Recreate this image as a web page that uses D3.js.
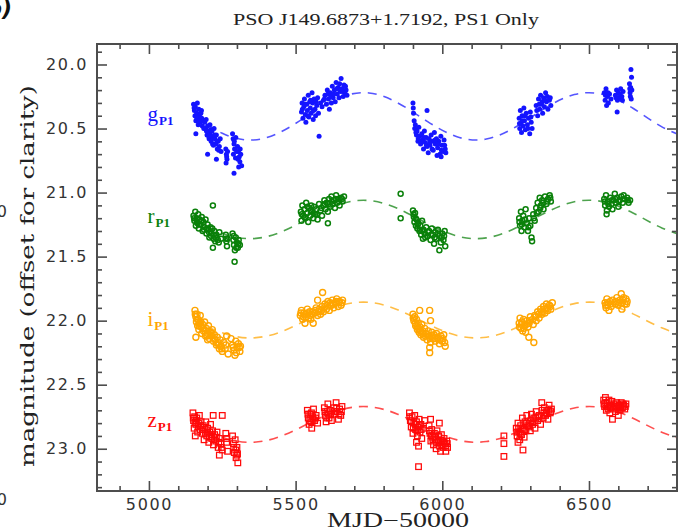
<!DOCTYPE html>
<html>
<head>
<meta charset="utf-8">
<script src="https://cdn.jsdelivr.net/npm/d3@7"></script>
<style>
  body { margin: 0; background: #fff; }
  svg { display: block; }
</style>
</head>
<body>
<svg id="chart" width="681" height="531"></svg>
<script>
// ---- PS1 light curve of PSO J149.6873+1.7192: [MJD-50000, magnitude] ----
const gObs = [
  [5152,20.31],[5155,20.36],[5157,20.40],[5158,20.33],[5160,20.44],[5163,20.38],[5165,20.30],[5166,20.42],
  [5168,20.47],[5170,20.35],[5172,20.40],[5175,20.45],[5177,20.38],[5180,20.42],[5182,20.48],[5185,20.44],
  [5160,20.54],[5190,20.45],[5193,20.50],[5195,20.43],[5198,20.55],[5200,20.48],[5203,20.52],[5205,20.58],
  [5208,20.47],[5210,20.55],[5212,20.60],[5215,20.52],[5218,20.57],[5220,20.63],[5222,20.50],[5225,20.58],
  [5228,20.62],[5230,20.55],[5233,20.66],[5236,20.60],[5240,20.64],[5243,20.58],[5246,20.68],[5200,20.70],
  [5230,20.74],[5262,20.66],[5264,20.70],[5266,20.74],[5263,20.77],[5268,20.68],[5285,20.54],[5287,20.58],
  [5290,20.62],[5292,20.66],[5288,20.70],[5295,20.73],[5290,20.85],[5296,20.57],[5302,20.64],[5305,20.68],
  [5308,20.72],[5310,20.76],[5313,20.70],[5316,20.79],[5306,20.80],
  [5154,20.34],[5162,20.41],[5171,20.44],[5179,20.36],[5187,20.50],[5196,20.52],[5204,20.56],[5211,20.51],
  [5217,20.62],[5224,20.55],[5232,20.60],[5238,20.67],[5265,20.72],[5291,20.60],[5299,20.68],[5304,20.74],
  [5311,20.66],
  [5520,20.37],[5522,20.30],[5525,20.42],[5528,20.33],[5530,20.27],[5533,20.39],[5535,20.45],[5538,20.31],
  [5540,20.36],[5543,20.24],[5545,20.41],[5548,20.29],[5550,20.34],[5553,20.38],[5556,20.22],[5558,20.30],
  [5560,20.43],[5563,20.27],[5566,20.35],[5568,20.40],[5572,20.32],[5575,20.26],[5578,20.38],[5580,20.56],
  [5590,20.33],[5595,20.28],[5600,20.24],[5605,20.31],[5608,20.20],[5612,20.27],[5615,20.35],[5618,20.22],
  [5622,20.30],[5625,20.17],[5628,20.26],[5632,20.20],[5635,20.29],[5638,20.14],[5642,20.23],[5645,20.18],
  [5648,20.26],[5652,20.21],[5655,20.11],[5658,20.19],[5662,20.25],[5665,20.16],[5668,20.22],[5672,20.20],
  [5523,20.35],[5532,20.31],[5541,20.40],[5551,20.28],[5561,20.36],[5570,20.29],[5585,20.30],[5598,20.27],
  [5610,20.23],[5620,20.25],[5630,20.23],[5640,20.19],[5650,20.15],[5660,20.21],[5670,20.17],[5675,20.24],
  [5900,20.30],[5902,20.38],[5904,20.44],[5906,20.50],[5908,20.47],[5912,20.55],[5914,20.52],[5917,20.60],
  [5920,20.49],[5923,20.56],[5926,20.62],[5930,20.54],[5933,20.59],[5936,20.66],[5939,20.52],[5942,20.61],
  [5945,20.57],[5948,20.64],[5952,20.69],[5948,20.36],[5955,20.58],[5958,20.63],[5962,20.55],[5966,20.60],
  [5969,20.67],[5973,20.53],[5976,20.62],[5980,20.58],[5984,20.65],[5988,20.60],[5992,20.70],[5995,20.56],
  [5999,20.63],[6003,20.68],[6006,20.59],[6010,20.66],[5996,20.72],[5982,20.71],
  [5901,20.34],[5910,20.53],[5918,20.58],[5928,20.60],[5938,20.57],[5946,20.63],[5957,20.61],[5965,20.66],
  [5975,20.59],[5986,20.62],[5997,20.67],[6008,20.63],[6012,20.69],
  [6262,20.42],[6264,20.50],[6266,20.36],[6268,20.46],[6270,20.53],[6272,20.40],[6275,20.48],[6278,20.34],
  [6280,20.44],[6283,20.51],[6286,20.38],[6290,20.47],[6294,20.42],[6298,20.54],[6300,20.37],[6303,20.45],
  [6306,20.50],[6320,20.32],[6325,20.40],[6328,20.27],[6332,20.35],[6335,20.24],[6338,20.31],[6342,20.38],
  [6345,20.26],[6348,20.33],[6352,20.22],[6355,20.29],[6360,20.35],[6365,20.28],[6370,20.32],
  [6263,20.46],[6273,20.44],[6282,20.40],[6292,20.50],[6302,20.41],[6322,20.36],[6330,20.31],[6340,20.29],
  [6350,20.28],[6358,20.25],[6368,20.26],
  [6552,20.22],[6555,20.28],[6558,20.19],[6560,20.32],[6563,20.25],[6566,20.30],[6570,20.23],[6575,20.27],
  [6590,20.24],[6594,20.20],[6597,20.28],[6600,20.22],[6604,20.26],[6608,20.19],[6612,20.25],[6616,20.21],
  [6596,20.37],[6638,20.15],[6640,20.22],[6642,20.18],[6644,20.27],[6646,20.20],[6643,20.04],[6645,20.10],
  [6556,20.24],[6565,20.22],[6592,20.26],[6606,20.23],[6614,20.28],[6641,20.25],[6639,20.19]
];

const rObs = [
  [5152,21.18],[5155,21.22],[5158,21.15],[5160,21.26],[5163,21.20],[5166,21.24],[5168,21.17],[5170,21.28],
  [5173,21.21],[5176,21.25],[5180,21.19],[5183,21.30],[5186,21.23],[5190,21.27],[5193,21.21],[5196,21.32],
  [5200,21.25],[5203,21.29],[5206,21.35],[5210,21.27],[5213,21.32],[5216,21.28],[5220,21.36],[5223,21.30],
  [5226,21.38],[5230,21.33],[5235,21.37],[5240,21.31],[5246,21.36],[5218,21.10],[5218,21.43],
  [5262,21.33],[5264,21.38],[5266,21.42],[5268,21.36],[5285,21.32],[5288,21.37],[5290,21.41],[5293,21.45],
  [5296,21.35],[5300,21.39],[5303,21.43],[5306,21.37],[5310,21.41],[5292,21.54],
  [5154,21.20],[5164,21.23],[5171,21.25],[5181,21.22],[5188,21.29],[5198,21.28],[5205,21.31],[5212,21.34],
  [5221,21.33],[5228,21.35],[5238,21.39],[5263,21.36],[5289,21.34],[5298,21.43],[5305,21.40],
  [5518,21.15],[5520,21.22],[5523,21.10],[5526,21.18],[5530,21.13],[5533,21.20],[5536,21.08],[5540,21.16],
  [5543,21.23],[5546,21.12],[5550,21.18],[5553,21.10],[5556,21.15],[5560,21.20],[5563,21.11],[5566,21.17],
  [5570,21.13],[5575,21.21],[5580,21.09],[5585,21.14],[5590,21.18],[5595,21.10],[5598,21.06],[5602,21.13],
  [5606,21.08],[5610,21.15],[5614,21.05],[5618,21.11],[5622,21.03],[5626,21.09],[5630,21.06],[5634,21.12],
  [5638,21.02],[5642,21.08],[5646,21.05],[5650,21.10],[5655,21.04],[5660,21.07],[5665,21.03],[5610,21.24],
  [5521,21.17],[5531,21.19],[5541,21.11],[5551,21.14],[5561,21.16],[5572,21.17],[5588,21.12],[5600,21.09],
  [5612,21.09],[5624,21.07],[5636,21.05],[5648,21.07],[5658,21.05],
  [5858,21.01],[5858,21.20],[5900,21.14],[5903,21.19],[5905,21.23],[5907,21.16],[5910,21.26],[5912,21.21],
  [5915,21.28],[5918,21.24],[5922,21.30],[5925,21.26],[5928,21.33],[5931,21.22],[5934,21.36],[5936,21.29],
  [5940,21.32],[5945,21.27],[5950,21.34],[5955,21.30],[5960,21.37],[5964,21.28],[5968,21.33],[5972,21.40],
  [5976,21.31],[5980,21.36],[5985,21.29],[5990,21.34],[5995,21.39],[6000,21.32],[6004,21.37],[6008,21.30],
  [6010,21.42],[5990,21.45],
  [5902,21.17],[5909,21.20],[5916,21.25],[5924,21.29],[5932,21.30],[5942,21.35],[5952,21.31],[5962,21.33],
  [5974,21.35],[5986,21.32],[5998,21.35],[6006,21.34],
  [6262,21.20],[6265,21.26],[6268,21.15],[6270,21.30],[6273,21.22],[6276,21.18],[6280,21.27],[6284,21.13],
  [6288,21.24],[6292,21.30],[6296,21.20],[6300,21.26],[6304,21.35],[6306,21.38],[6310,21.17],[6315,21.22],
  [6320,21.12],[6325,21.08],[6328,21.15],[6332,21.04],[6336,21.10],[6340,21.06],[6345,21.13],[6350,21.03],
  [6355,21.09],[6360,21.05],[6366,21.02],[6370,21.07],
  [6263,21.23],[6271,21.25],[6282,21.21],[6294,21.27],[6312,21.20],[6322,21.16],[6334,21.12],[6344,21.08],
  [6358,21.07],[6368,21.04],
  [6552,21.05],[6555,21.10],[6558,21.02],[6561,21.14],[6564,21.07],[6568,21.11],[6572,21.04],[6576,21.09],
  [6580,21.13],[6584,21.06],[6588,21.01],[6592,21.08],[6596,21.04],[6600,21.11],[6605,21.06],[6610,21.03],
  [6615,21.08],[6620,21.05],[6630,21.04],[6635,21.08],[6640,21.06],[6560,21.17],
  [6554,21.07],[6566,21.09],[6578,21.06],[6590,21.05],[6602,21.07],[6618,21.02],[6632,21.06]
];

const iObs = [
  [5157,21.92],[5160,21.97],[5162,22.01],[5164,21.95],[5166,22.04],[5168,21.99],[5170,22.07],[5172,22.02],
  [5175,21.96],[5178,22.05],[5180,22.10],[5183,22.03],[5186,22.08],[5190,22.01],[5193,22.12],[5196,22.06],
  [5200,22.10],[5203,22.04],[5206,22.14],[5210,22.09],[5213,22.12],[5216,22.07],[5220,22.16],[5223,22.11],
  [5226,22.15],[5230,22.19],[5233,22.13],[5236,22.17],[5240,22.22],[5243,22.15],[5246,22.20],[5250,22.24],
  [5255,22.17],[5260,22.22],[5265,22.12],[5270,22.26],[5280,22.14],[5285,22.19],[5290,22.23],[5293,22.27],
  [5296,22.16],[5300,22.21],[5305,22.18],[5310,22.24],[5312,22.20],[5160,22.13],[5200,22.15],
  [5158,21.95],[5165,21.99],[5171,22.04],[5177,22.01],[5185,22.06],[5192,22.08],[5198,22.12],[5208,22.11],
  [5215,22.10],[5222,22.14],[5229,22.17],[5238,22.19],[5248,22.22],[5262,22.19],[5287,22.21],[5298,22.25],
  [5308,22.21],
  [5516,21.96],[5520,21.92],[5524,21.99],[5528,21.94],[5532,22.02],[5536,21.97],[5540,21.91],[5544,21.98],
  [5548,21.93],[5552,21.99],[5556,21.95],[5560,22.02],[5565,21.94],[5570,21.90],[5575,21.96],[5580,21.91],
  [5585,21.95],[5590,21.89],[5595,21.93],[5600,21.87],[5605,21.91],[5610,21.85],[5615,21.92],[5620,21.88],
  [5625,21.84],[5630,21.90],[5635,21.86],[5640,21.83],[5645,21.89],[5650,21.85],[5655,21.88],[5660,21.84],
  [5592,21.78],[5575,21.84],
  [5518,21.94],[5526,21.97],[5534,21.95],[5542,21.94],[5550,21.96],[5558,21.93],[5568,21.92],[5578,21.93],
  [5588,21.92],[5598,21.90],[5608,21.88],[5618,21.86],[5628,21.87],[5638,21.85],[5648,21.86],[5658,21.86],
  [5900,21.95],[5903,22.00],[5906,21.97],[5909,22.04],[5912,21.99],[5915,22.07],[5918,22.02],[5921,22.09],
  [5924,22.05],[5927,22.11],[5930,22.03],[5933,22.08],[5936,22.13],[5940,22.06],[5944,22.10],[5948,22.15],
  [5952,22.08],[5956,22.12],[5960,22.17],[5964,22.09],[5968,22.14],[5972,22.11],[5976,22.16],[5980,22.10],
  [5985,22.14],[5990,22.18],[5995,22.12],[6000,22.16],[6005,22.11],[6010,22.20],[5923,21.92],[5957,21.92],
  [5957,22.21],[5957,22.25],[5960,22.00],
  [5901,21.98],[5908,22.02],[5914,22.05],[5920,22.06],[5926,22.08],[5934,22.10],[5942,22.12],[5950,22.11],
  [5958,22.14],[5966,22.12],[5974,22.14],[5982,22.13],[5992,22.15],[6002,22.14],[6008,22.17],
  [6262,22.02],[6265,21.98],[6268,22.06],[6271,22.01],[6274,22.08],[6277,21.99],[6280,22.04],[6284,22.09],
  [6288,22.00],[6292,22.05],[6296,22.02],[6300,21.97],[6295,22.13],[6312,22.17],[6310,22.03],[6315,21.96],
  [6320,22.00],[6325,21.93],[6330,21.98],[6335,21.91],[6340,21.95],[6345,21.89],[6350,21.94],[6355,21.87],
  [6360,21.92],[6365,21.88],[6370,21.91],[6375,21.86],
  [6263,22.05],[6270,22.03],[6278,22.06],[6286,22.03],[6298,22.00],[6308,21.99],[6318,21.97],[6328,21.95],
  [6338,21.93],[6348,21.91],[6358,21.90],[6368,21.89],
  [6555,21.86],[6558,21.90],[6561,21.83],[6564,21.88],[6568,21.92],[6572,21.85],[6576,21.89],[6580,21.84],
  [6590,21.87],[6595,21.82],[6600,21.88],[6605,21.84],[6610,21.79],[6614,21.86],[6618,21.82],[6622,21.87],
  [6626,21.83],[6630,21.85],[6612,21.91],
  [6557,21.88],[6566,21.86],[6574,21.87],[6592,21.85],[6602,21.86],[6616,21.84],[6628,21.87]
];

const zObs = [
  [5150,22.72],[5152,22.78],[5154,22.84],[5156,22.75],[5158,22.90],[5160,22.81],[5163,22.76],[5166,22.87],
  [5169,22.80],[5172,22.74],[5175,22.85],[5178,22.79],[5182,22.88],[5185,22.82],[5188,22.93],[5191,22.85],
  [5194,22.79],[5197,22.90],[5200,22.84],[5204,22.95],[5207,22.87],[5210,22.81],[5214,22.92],[5217,22.86],
  [5220,22.97],[5224,22.89],[5228,22.94],[5232,22.87],[5236,22.99],[5240,22.92],[5245,22.96],[5250,23.01],
  [5219,22.74],[5250,22.74],[5262,22.88],[5265,22.95],[5268,23.02],[5285,22.90],[5288,22.96],[5291,23.03],
  [5294,22.93],[5297,23.07],[5300,22.99],[5303,23.11],[5300,23.05],[5240,23.05],
  [5151,22.76],[5157,22.80],[5162,22.78],[5168,22.83],[5176,22.82],[5183,22.85],[5192,22.88],[5199,22.87],
  [5206,22.91],[5213,22.89],[5222,22.93],[5230,22.91],[5238,22.95],[5247,22.99],[5264,22.92],[5289,22.99],
  [5296,23.01],[5302,23.04],
  [5540,22.70],[5543,22.76],[5546,22.81],[5549,22.73],[5552,22.79],[5555,22.84],[5558,22.75],[5561,22.69],
  [5565,22.78],[5570,22.74],[5575,22.80],[5598,22.68],[5601,22.74],[5604,22.79],[5607,22.71],[5610,22.65],
  [5614,22.76],[5618,22.70],[5622,22.78],[5630,22.68],[5634,22.73],[5638,22.64],[5642,22.71],[5646,22.77],
  [5650,22.69],[5654,22.74],[5658,22.67],
  [5542,22.73],[5548,22.78],[5554,22.72],[5560,22.77],[5568,22.76],[5600,22.71],[5606,22.76],[5612,22.73],
  [5620,22.73],[5632,22.71],[5640,22.68],[5648,22.73],[5656,22.71],
  [5888,22.72],[5891,22.78],[5894,22.83],[5897,22.75],[5900,22.88],[5903,22.80],[5906,22.74],[5909,22.85],
  [5912,22.79],[5915,22.90],[5918,22.83],[5921,22.77],[5924,22.87],[5927,22.81],[5930,22.92],[5935,22.84],
  [5940,22.78],[5919,22.98],[5912,22.95],[5919,23.14],[5955,22.82],[5958,22.88],[5961,22.94],[5964,22.85],
  [5967,22.91],[5970,22.97],[5973,22.88],[5976,22.93],[5979,23.00],[5982,22.86],[5985,22.95],[5988,22.90],
  [5991,22.98],[5994,23.02],[5997,22.89],[6000,22.94],[6003,22.99],[6006,22.92],[6009,22.96],[6012,23.02],
  [6015,22.94],[6018,22.99],[5960,22.77],[5990,22.80],
  [5889,22.75],[5895,22.79],[5901,22.84],[5908,22.81],[5914,22.86],[5922,22.82],[5928,22.85],[5956,22.86],
  [5962,22.90],[5968,22.93],[5974,22.91],[5980,22.95],[5987,22.93],[5993,22.95],[5999,22.97],[6005,22.95],
  [6011,22.98],[6017,22.96],
  [6210,22.90],[6210,22.96],[6210,23.06],
  [6252,22.84],[6255,22.90],[6258,22.80],[6261,22.87],[6264,22.93],[6267,22.82],[6270,22.89],[6273,22.76],
  [6276,22.85],[6279,22.91],[6282,22.79],[6285,22.86],[6288,22.74],[6291,22.82],[6275,23.01],[6258,22.95],
  [6296,22.80],[6300,22.86],[6304,22.73],[6308,22.81],[6312,22.76],[6316,22.84],[6320,22.71],[6325,22.78],
  [6330,22.74],[6335,22.81],[6340,22.70],[6344,22.76],[6348,22.68],[6352,22.74],[6356,22.70],[6360,22.77],
  [6364,22.66],[6368,22.72],[6372,22.69],[6339,22.64],
  [6254,22.87],[6260,22.84],[6266,22.88],[6272,22.84],[6280,22.85],[6287,22.80],[6295,22.83],[6302,22.78],
  [6310,22.79],[6318,22.76],[6328,22.75],[6338,22.74],[6346,22.72],[6354,22.72],[6362,22.70],[6370,22.71],
  [6550,22.62],[6553,22.67],[6556,22.60],[6559,22.70],[6562,22.64],[6565,22.69],[6568,22.62],[6571,22.72],
  [6574,22.66],[6578,22.63],[6582,22.69],[6586,22.65],[6590,22.71],[6594,22.64],[6598,22.68],[6602,22.66],
  [6606,22.70],[6610,22.64],[6614,22.68],[6618,22.66],[6622,22.69],[6626,22.65],[6580,22.77],[6600,22.74],
  [6551,22.65],[6557,22.64],[6563,22.67],[6570,22.66],[6576,22.68],[6584,22.67],[6592,22.67],[6600,22.69],
  [6608,22.67],[6616,22.65],[6624,22.67]
];

// ---- periodic model curves, sampled every 100 days ----
const modelMJD = [5150,5250,5350,5450,5550,5650,5750,5850,5950,6050,6150,6250,6350,6450,6550,6650,6750,6850];
const gModel = [20.401,20.537,20.590,20.526,20.386,20.259,20.222,20.302,20.446,20.564,20.582,20.488,20.342,20.235,20.235,20.342,20.489,20.582];
const rModel = [21.207,21.317,21.360,21.308,21.195,21.091,21.062,21.126,21.243,21.339,21.354,21.277,21.159,21.072,21.072,21.159,21.278,21.354];
const iModel = [21.992,22.095,22.135,22.087,21.981,21.884,21.857,21.917,22.026,22.116,22.129,22.058,21.948,21.867,21.866,21.947,22.058,22.129];
const zModel = [22.807,22.910,22.950,22.902,22.796,22.699,22.672,22.732,22.841,22.931,22.944,22.873,22.763,22.682,22.681,22.762,22.873,22.944];

// ---- axes ----
const xTicks = [5000, 5500, 6000, 6500];
const yTicks = [20.0, 20.5, 21.0, 21.5, 22.0, 22.5, 23.0];
const xMinorTicks = [4900,5100,5200,5300,5400,5600,5700,5800,5900,6100,6200,6300,6400,6600,6700];
const yMinorTicks = [19.9,20.1,20.2,20.3,20.4,20.6,20.7,20.8,20.9,21.1,21.2,21.3,21.4,21.6,21.7,21.8,21.9,
                     22.1,22.2,22.3,22.4,22.6,22.7,22.8,22.9,23.1,23.2,23.3];

const bandNames = ["g", "r", "i", "z"];
const bandLabelMag = [20.40, 21.20, 22.00, 22.79];
const bandLabelMJD = [4995, 4995, 4995, 4995];

const titleText = "PSO J149.6873+1.7192, PS1 Only";
const xTitle = "MJD\u221250000";
const yTitle = "magnitude (offset for clarity)";

const bands = [
  { name: bandNames[0], obs: gObs, model: gModel, color: "#1414ff", symbol: "dot" },
  { name: bandNames[1], obs: rObs, model: rModel, color: "#0a800a", symbol: "ring" },
  { name: bandNames[2], obs: iObs, model: iModel, color: "#ffa500", symbol: "circle" },
  { name: bandNames[3], obs: zObs, model: zModel, color: "#ff0a0a", symbol: "square" }
];

const plot = { left: 97, right: 677, top: 44, bottom: 491 };

const x = d3.scaleLinear().domain([4823, 6800]).range([plot.left, plot.right]);
const y = d3.scaleLinear().domain([19.84, 23.33]).range([plot.top, plot.bottom]);

const svg = d3.select("#chart");
const frameColor = "#4d4d4d";

svg.append("defs").append("clipPath").attr("id", "plotClip")
  .append("rect")
  .attr("x", plot.left).attr("y", plot.top)
  .attr("width", plot.right - plot.left).attr("height", plot.bottom - plot.top);

// model curves (dashed), under the points
const line = d3.line()
  .x((d, i) => x(modelMJD[i]))
  .y(d => y(d))
  .curve(d3.curveNatural);

const curves = svg.append("g").attr("clip-path", "url(#plotClip)");
bands.forEach(b => {
  curves.append("path")
    .datum(b.model)
    .attr("d", line)
    .attr("fill", "none")
    .attr("stroke", b.color)
    .attr("stroke-opacity", 0.72)
    .attr("stroke-width", 1.6)
    .attr("stroke-dasharray", "9,7");
});

// observations
const pts = svg.append("g").attr("clip-path", "url(#plotClip)");
bands.forEach(b => {
  const g = pts.append("g");
  if (b.symbol === "dot") {
    g.selectAll("circle").data(b.obs).join("circle")
      .attr("cx", d => x(d[0])).attr("cy", d => y(d[1])).attr("r", 2.5)
      .attr("fill", b.color);
  } else if (b.symbol === "ring") {
    g.selectAll("circle").data(b.obs).join("circle")
      .attr("cx", d => x(d[0])).attr("cy", d => y(d[1])).attr("r", 2.5)
      .attr("fill", "none").attr("stroke", b.color).attr("stroke-width", 1.5);
  } else if (b.symbol === "circle") {
    g.selectAll("circle").data(b.obs).join("circle")
      .attr("cx", d => x(d[0])).attr("cy", d => y(d[1])).attr("r", 3.0)
      .attr("fill", "none").attr("stroke", b.color).attr("stroke-width", 1.4);
  } else {
    g.selectAll("rect").data(b.obs).join("rect")
      .attr("x", d => x(d[0]) - 2.8).attr("y", d => y(d[1]) - 2.8)
      .attr("width", 5.6).attr("height", 5.6)
      .attr("fill", "none").attr("stroke", b.color).attr("stroke-width", 1.25);
  }
});

// band labels
bands.forEach((b, k) => {
  const t = svg.append("text")
    .attr("x", x(bandLabelMJD[k])).attr("y", y(bandLabelMag[k]) + 5)
    .attr("fill", b.color)
    .attr("font-family", "'Liberation Serif', 'DejaVu Serif', serif");
  t.append("tspan").attr("font-size", 21).text(b.name);
  t.append("tspan").attr("font-size", 13).attr("font-weight", "bold")
    .attr("dy", 4).attr("dx", 1).text("P1");
});

// frame and ticks (inward on all four sides)
function styleAxis(sel) {
  sel.select(".domain").remove();
  sel.selectAll(".tick line").attr("stroke", frameColor).attr("stroke-width", 1.6);
  sel.selectAll(".tick text")
    .attr("fill", "#333")
    .attr("font-family", "'DejaVu Sans', sans-serif")
    .attr("font-size", 16)
    .attr("letter-spacing", "1.6px");
}

const fmt = d3.format(".1f");

svg.append("g").attr("transform", `translate(0,${plot.bottom})`)
  .call(d3.axisBottom(x).tickValues(xTicks).tickSize(-10).tickPadding(8).tickFormat(d3.format("d")))
  .call(styleAxis);
svg.append("g").attr("transform", `translate(0,${plot.bottom})`)
  .call(d3.axisBottom(x).tickValues(xMinorTicks).tickSize(-5).tickFormat(""))
  .call(styleAxis);
svg.append("g").attr("transform", `translate(0,${plot.top})`)
  .call(d3.axisTop(x).tickValues(xTicks).tickSize(-10).tickFormat(""))
  .call(styleAxis);
svg.append("g").attr("transform", `translate(0,${plot.top})`)
  .call(d3.axisTop(x).tickValues(xMinorTicks).tickSize(-5).tickFormat(""))
  .call(styleAxis);

svg.append("g").attr("transform", `translate(${plot.left},0)`)
  .call(d3.axisLeft(y).tickValues(yTicks).tickSize(-10).tickPadding(9).tickFormat(fmt))
  .call(styleAxis);
svg.append("g").attr("transform", `translate(${plot.left},0)`)
  .call(d3.axisLeft(y).tickValues(yMinorTicks).tickSize(-5).tickFormat(""))
  .call(styleAxis);
svg.append("g").attr("transform", `translate(${plot.right},0)`)
  .call(d3.axisRight(y).tickValues(yTicks).tickSize(-10).tickFormat(""))
  .call(styleAxis);
svg.append("g").attr("transform", `translate(${plot.right},0)`)
  .call(d3.axisRight(y).tickValues(yMinorTicks).tickSize(-5).tickFormat(""))
  .call(styleAxis);

svg.append("rect")
  .attr("x", plot.left).attr("y", plot.top)
  .attr("width", plot.right - plot.left).attr("height", plot.bottom - plot.top)
  .attr("fill", "none").attr("stroke", frameColor).attr("stroke-width", 2);

// titles
svg.append("text")
  .attr("x", 386).attr("y", 25)
  .attr("text-anchor", "middle")
  .attr("font-family", "'Liberation Serif', serif")
  .attr("font-size", 17)
  .attr("fill", "#222")
  .attr("textLength", 306).attr("lengthAdjust", "spacingAndGlyphs")
  .text(titleText);

svg.append("text")
  .attr("x", 398).attr("y", 527)
  .attr("text-anchor", "middle")
  .attr("font-family", "'Liberation Serif', serif")
  .attr("font-size", 20)
  .attr("fill", "#222")
  .attr("textLength", 142).attr("lengthAdjust", "spacingAndGlyphs")
  .text(xTitle);

svg.append("text")
  .attr("transform", "translate(34,276) rotate(-90)")
  .attr("text-anchor", "middle")
  .attr("font-family", "'DejaVu Serif', serif")
  .attr("font-size", 18)
  .attr("fill", "#222")
  .attr("textLength", 382).attr("lengthAdjust", "spacingAndGlyphs")
  .text(yTitle);

// edge of the adjoining panel: its label and tick-label digits
svg.append("text").attr("x", 12).attr("y", 16).attr("text-anchor", "end")
  .attr("font-family", "'DejaVu Sans', sans-serif").attr("font-size", 22)
  .attr("font-style", "italic").attr("font-weight", "bold").attr("fill", "#111").text("b)");
[217, 505].forEach(yy => {
  svg.append("text").attr("x", 7).attr("y", yy).attr("text-anchor", "end")
    .attr("font-family", "'DejaVu Sans', sans-serif").attr("font-size", 16)
    .attr("fill", "#333").text("0");
});
</script>
</body>
</html>
